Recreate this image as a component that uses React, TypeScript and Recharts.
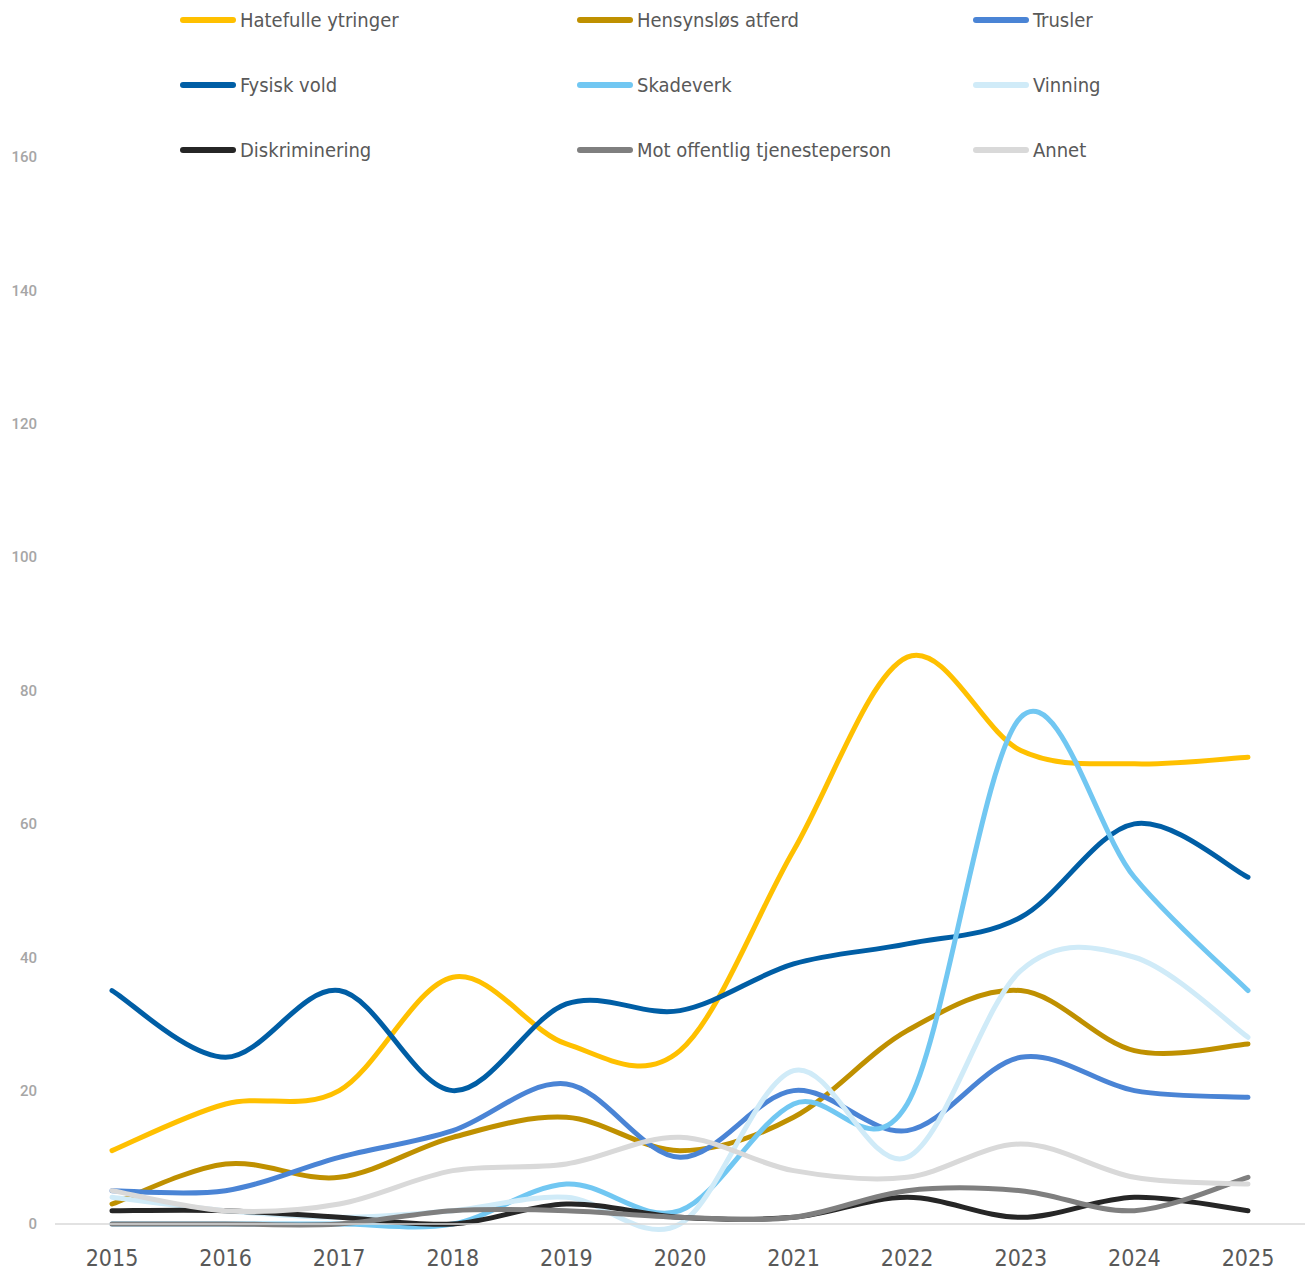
import React from "react";
import { LineChart, Line, XAxis, YAxis, Legend } from "recharts";

if (typeof document !== "undefined") {
  document.body.style.margin = "0";
}

const years = ["2015", "2016", "2017", "2018", "2019", "2020", "2021", "2022", "2023", "2024", "2025"];

const hatefulle = [11, 18, 20, 37, 27, 26, 56, 85, 71, 69, 70];
const hensynslos = [3, 9, 7, 13, 16, 11, 16, 29, 35, 26, 27];
const trusler = [5, 5, 10, 14, 21, 10, 20, 14, 25, 20, 19];
const fysiskVold = [35, 25, 35, 20, 33, 32, 39, 42, 46, 60, 52];
const skadeverk = [0, 0, 0, 0, 6, 2, 18, 18, 76, 52, 35];
const vinning = [4, 2, 1, 2, 4, 0, 23, 10, 38, 40, 28];
const diskriminering = [2, 2, 1, 0, 3, 1, 1, 4, 1, 4, 2];
const motOffentlig = [0, 0, 0, 2, 2, 1, 1, 5, 5, 2, 7];
const annet = [5, 2, 3, 8, 9, 13, 8, 7, 12, 7, 6];

const yTicks = [0, 20, 40, 60, 80, 100, 120, 140, 160];

const seriesDefs = [
  { key: "hatefulle", name: "Hatefulle ytringer", values: hatefulle, color: "#FFC000" },
  { key: "hensynslos", name: "Hensynsløs atferd", values: hensynslos, color: "#BF9000" },
  { key: "trusler", name: "Trusler", values: trusler, color: "#4A84D5" },
  { key: "fysisk", name: "Fysisk vold", values: fysiskVold, color: "#005EA5" },
  { key: "skadeverk", name: "Skadeverk", values: skadeverk, color: "#71C7F2" },
  { key: "vinning", name: "Vinning", values: vinning, color: "#D0EBF8" },
  { key: "diskriminering", name: "Diskriminering", values: diskriminering, color: "#262626" },
  { key: "motoffentlig", name: "Mot offentlig tjenesteperson", values: motOffentlig, color: "#7F7F7F" },
  { key: "annet", name: "Annet", values: annet, color: "#D9D9D9" },
];

const data = years.map((y, i) => {
  const row: Record<string, any> = { year: y };
  seriesDefs.forEach((s) => {
    row[s.key] = s.values[i];
  });
  return row;
});

// Excel-like smoothed line (Catmull-Rom with 1/6 control offsets)
function excelCurve(context: any) {
  let pts: number[][] = [];
  return {
    areaStart() {},
    areaEnd() {},
    lineStart() {
      pts = [];
    },
    point(x: number, y: number) {
      pts.push([+x, +y]);
    },
    lineEnd() {
      const n = pts.length;
      if (n === 0) return;
      context.moveTo(pts[0][0], pts[0][1]);
      for (let i = 0; i < n - 1; i++) {
        const p0 = pts[i - 1] || pts[i];
        const p1 = pts[i];
        const p2 = pts[i + 1];
        const p3 = pts[i + 2] || p2;
        context.bezierCurveTo(
          p1[0] + (p2[0] - p0[0]) / 6,
          p1[1] + (p2[1] - p0[1]) / 6,
          p2[0] - (p3[0] - p1[0]) / 6,
          p2[1] - (p3[1] - p1[1]) / 6,
          p2[0],
          p2[1]
        );
      }
    },
  };
}

const textFont = "'Liberation Sans Narrow', 'DejaVu Sans Condensed', 'Roboto', sans-serif";

const renderLegend = () => {
  const colX = [180, 577, 973];
  const rowY = [20, 85, 150];
  return (
    <div style={{ position: "relative", width: 1314, height: 170 }}>
      {seriesDefs.map((s, i) => {
        const c = i % 3;
        const r = Math.floor(i / 3);
        return (
          <div
            key={s.key}
            style={{
              position: "absolute",
              left: colX[c],
              top: rowY[r] - 15,
              height: 30,
              display: "flex",
              alignItems: "center",
              whiteSpace: "nowrap",
            }}
          >
            <span
              style={{
                display: "inline-block",
                width: 56,
                height: 6,
                borderRadius: 3,
                background: s.color,
                marginRight: 4,
              }}
            />
            <span style={{ fontFamily: textFont, fontSize: 20, color: "#595959" }}>{s.name}</span>
          </div>
        );
      })}
    </div>
  );
};

export default function App() {
  return (
    <div style={{ width: 1314, height: 1277, background: "#ffffff", position: "relative" }}>
      <LineChart
        width={1314}
        height={1277}
        data={data}
        margin={{ top: 157, right: 9, bottom: 0, left: 0 }}
      >
        <XAxis
          dataKey="year"
          height={53}
          padding={{ left: 57, right: 57 }}
          axisLine={{ stroke: "#D9D9D9", strokeWidth: 1.5 }}
          tickLine={false}
          tickSize={0}
          tickMargin={26}
          interval={0}
          tick={{ fill: "#595959", fontSize: 23, fontFamily: textFont }}
        />
        <YAxis
          domain={[0, 160]}
          ticks={yTicks}
          width={55}
          axisLine={false}
          tickLine={false}
          tickSize={0}
          tickMargin={18}
          interval={0}
          tick={{ fill: "#A6A6A6", fontSize: 15, fontWeight: 500, fontFamily: "Roboto, sans-serif" }}
        />
        <Legend
          layout="vertical"
          align="center"
          verticalAlign="middle"
          content={renderLegend}
          wrapperStyle={{ top: 0, left: 0, width: 1314, height: 170 }}
        />
        {seriesDefs.map((s) => (
          <Line
            key={s.key}
            dataKey={s.key}
            name={s.name}
            stroke={s.color}
            strokeWidth={5}
            strokeLinecap="round"
            strokeLinejoin="round"
            type={excelCurve as any}
            dot={false}
            activeDot={false}
            isAnimationActive={false}
          />
        ))}
      </LineChart>
    </div>
  );
}
